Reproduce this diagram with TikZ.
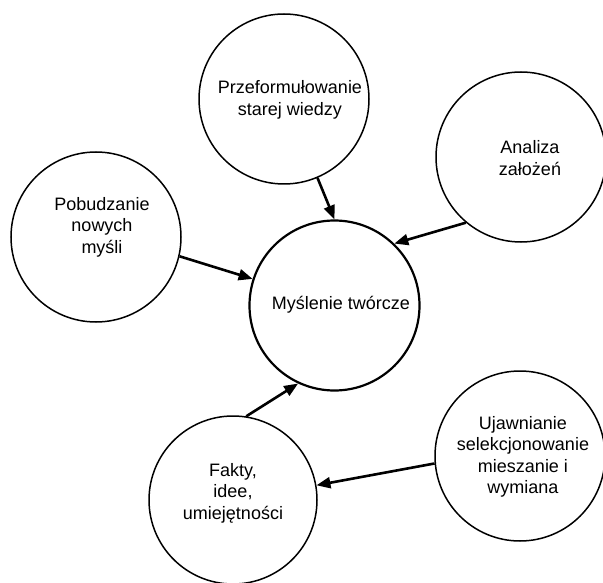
\documentclass[tikz,border=0pt]{standalone}
\usepackage{fontspec}
\setmainfont{Liberation Sans}
\usetikzlibrary{arrows.meta}
\begin{document}
\begin{tikzpicture}[x=1pt,y=-1pt,
  bubble/.style={circle,draw=black,line width=1.5pt,minimum size=170pt,inner sep=0pt},
  mainbubble/.style={bubble,line width=2.2pt},
  lbl/.style={align=center,font=\fontsize{18}{21.5}\selectfont,inner sep=0pt},
  conn/.style={line width=2.6pt,-{Triangle[length=14pt,width=11pt]}}]
\useasboundingbox (0,0) rectangle (603,583);
\node[bubble] (pre) at (284,99) {};
\node[bubble] (ana) at (521,157) {};
\node[bubble] (pob) at (96,237) {};
\node[mainbubble] (mys) at (334.5,305.5) {};
\node[bubble,minimum size=168pt] (fak) at (233,500) {};
\node[bubble] (uja) at (520,456) {};
\node[lbl] (tpre) at (290,100) {Przeformułowanie\\starej wiedzy};
\node[lbl] (tana) at (530,158) {Analiza\\założeń};
\node[lbl] (tpob) at (102,227) {Pobudzanie\\nowych\\myśli};
\node[lbl] (tmys) at (341,305) {Myślenie twórcze};
\node[lbl] (tfak) at (233,493) {Fakty,\\idee,\\umiejętności};
\node[lbl] (tuja) at (523,457) {Ujawnianie\\selekcjonowanie\\mieszanie i\\wymiana};
\draw[conn] (pre.-67) -- (mys.90);
\draw[conn] (ana.230) -- (mys.46);
\draw[conn] (pob.-13) -- (mys.162);
\draw[conn] (fak.81) -- (mys.245);
\draw[conn] (uja.185) -- (fak.10);
\end{tikzpicture}
\end{document}
